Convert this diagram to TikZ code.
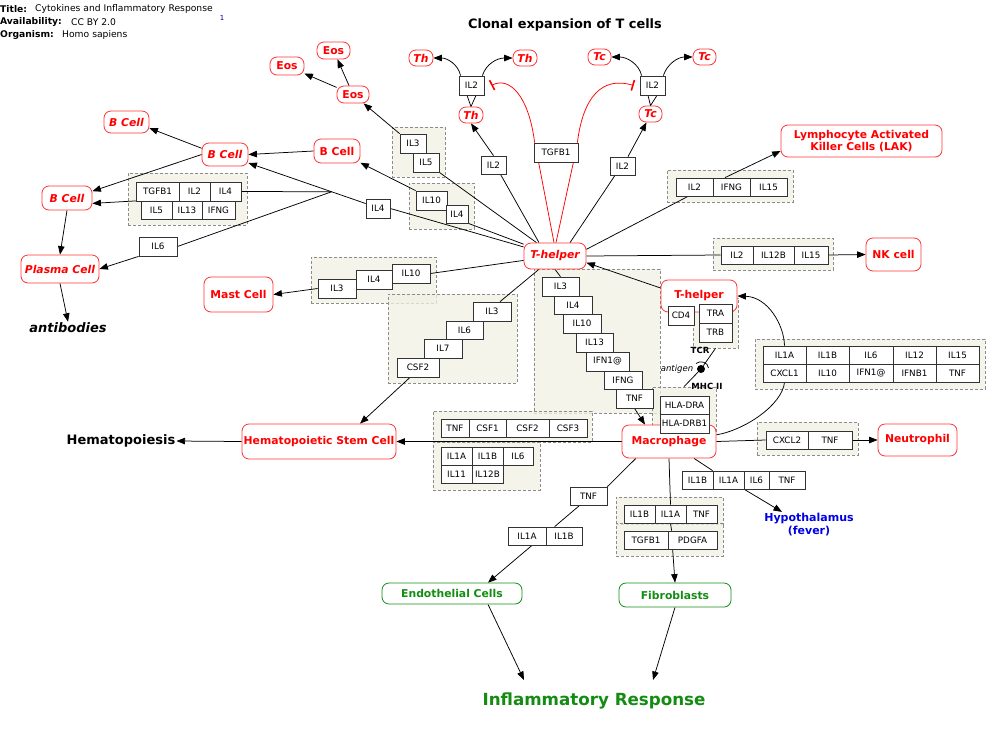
\documentclass[tikz,border=0pt]{standalone}
\usepackage{fontspec}
\setmainfont{DejaVu Sans}
\usetikzlibrary{arrows.meta,calc}
\pgfdeclarelayer{bg}
\pgfdeclarelayer{lnl}
\pgfsetlayers{bg,lnl,main}
\definecolor{grpfill}{RGB}{241,241,228}
\definecolor{cellred}{RGB}{255,0,0}
\definecolor{grn}{RGB}{20,140,20}
\definecolor{hypblue}{RGB}{0,0,230}
\tikzset{
  gene/.style={draw=black!80, line width=0.75pt, fill=white, inner sep=0pt,
    font=\fontsize{8.8}{10}\selectfont},
  grpst/.style={draw=black!45, dashed, dash pattern=on 3pt off 2pt, line width=0.7pt,
    fill=grpfill, fill opacity=0.75, inner sep=0pt},
  cellup/.style={draw=cellred!80, line width=0.8pt, fill=white, rounded corners=7pt,
    inner sep=0pt, text=cellred, align=center, font=\fontsize{10.8}{12.5}\selectfont\bfseries},
  cellit/.style={cellup, font=\fontsize{10.8}{12.5}\selectfont\bfseries\itshape},
  cellgrn/.style={cellup, draw=grn, text=grn},
  conn/.style={line width=0.75pt, draw=black},
  arr/.style={conn, -{Triangle[length=8.5pt,width=6.5pt]}},
  inh/.style={line width=0.75pt, draw=red, -{Bar[width=11pt,line width=1.6pt]}},
  hdr/.style={inner sep=0pt, anchor=west, font=\fontsize{9.2}{11}\selectfont},
  hdrb/.style={hdr, font=\fontsize{9.2}{11}\selectfont\bfseries},
}
\newcommand\gbx[6]{\node[gene,minimum width={(#4-#2)*1pt},minimum height={(#5-#3)*1pt}] (#1) at ({(#2+#4)/2},{(#3+#5)/2}) {#6};}
\newcommand\cbx[7]{\node[#7,minimum width={(#4-#2)*1pt},minimum height={(#5-#3)*1pt}] (#1) at ({(#2+#4)/2},{(#3+#5)/2}) {#6};}
\newcommand\grbx[5]{\begin{pgfonlayer}{bg}\node[grpst,minimum width={(#4-#2)*1pt},minimum height={(#5-#3)*1pt}] (#1) at ({(#2+#4)/2},{(#3+#5)/2}) {};\end{pgfonlayer}}
\begin{document}
\begin{tikzpicture}[x=1pt,y=-1pt]
\begin{pgfonlayer}{bg}
\fill[white] (0,0) rectangle (1000,737);
\end{pgfonlayer}
\useasboundingbox (0,0) rectangle (1000,737);

% header
\node[hdrb] (tl1) at (0,9) {Title:};
\node[hdr] (tl2) at (35,9) {Cytokines and Inflammatory Response};
\node[hdrb] (av1) at (0,22) {Availability:};
\node[hdr] (av2) at (71,22) {CC BY 2.0};
\node[hdrb] (or1) at (0,35) {Organism:};
\node[hdr] (or2) at (62,35) {Homo sapiens};
\node[inner sep=0pt, text=blue!70!black, font=\fontsize{7}{8}\selectfont] (ref1) at (222,18) {1};
\node[inner sep=0pt, font=\fontsize{12.9}{14}\selectfont\bfseries] (ttl) at (565,25) {Clonal expansion of T cells};

% groups
\grbx{g1}{128}{173}{247}{225}
\grbx{g2}{392}{127}{445}{177}
\grbx{g3}{409}{183}{474}{229}
\grbx{g4}{311}{257}{436}{303}
\grbx{g5}{388}{294}{517}{383}
\grbx{g6}{534}{269}{660}{413}
\grbx{g7}{693}{298}{738}{348}
\grbx{g8}{652}{387}{716}{433}
\grbx{g9}{667}{170}{793}{202}
\grbx{g10}{713}{238}{833}{270}
\grbx{g11}{755}{339}{985}{389}
\grbx{g12}{757}{422}{858}{455}
\grbx{g13}{433}{411}{592}{442}
\grbx{g14}{433}{442}{540}{490}
\grbx{g15}{616}{497}{723}{524}
\grbx{g16}{616}{523}{723}{556}

% cells
\cbx{eosA}{270}{57}{304}{75}{Eos}{cellup}
\cbx{eosB}{317}{42}{350}{59}{Eos}{cellup}
\cbx{eosC}{337}{86}{369}{103}{Eos}{cellup}
\cbx{thL}{409}{50}{433}{66}{Th}{cellit}
\cbx{thR}{513}{50}{537}{66}{Th}{cellit}
\cbx{thC}{459}{107}{483}{123}{Th}{cellit}
\cbx{tcL}{588}{49}{611}{65}{Tc}{cellit}
\cbx{tcR}{693}{49}{716}{65}{Tc}{cellit}
\cbx{tcC}{639}{106}{662}{122}{Tc}{cellit}
\cbx{bcA}{104}{111}{149}{133}{B Cell}{cellit}
\cbx{bcB}{202}{143}{248}{166}{B Cell}{cellit}
\cbx{bcC}{314}{139}{360}{163}{B Cell}{cellup}
\cbx{bcD}{42}{186}{92}{210}{B Cell}{cellit}
\cbx{plasma}{21}{255}{99}{283}{Plasma Cell}{cellit}
\cbx{mast}{204}{277}{273}{312}{Mast Cell}{cellup}
\cbx{th1}{524}{243}{586}{269}{T-helper}{cellit}
\cbx{th2}{661}{280}{737}{312}{T-helper}{cellup}
\cbx{lak}{781}{125}{942}{157}{Lymphocyte Activated\\Killer Cells (LAK)}{cellup}
\cbx{nk}{866}{238}{921}{271}{NK cell}{cellup}
\cbx{macro}{622}{425}{716}{458}{Macrophage}{cellup}
\cbx{neutro}{878}{424}{957}{456}{Neutrophil}{cellup}
\cbx{hsc}{242}{424}{396}{459}{Hematopoietic Stem Cell}{cellup}
\cbx{endo}{382}{583}{522}{604}{Endothelial Cells}{cellgrn}
\cbx{fibro}{619}{583}{731}{607}{Fibroblasts}{cellgrn}

% free labels
\node[inner sep=1pt, font=\fontsize{13}{15}\selectfont\bfseries\itshape] (anti) at (68,328) {antibodies};
\node[inner sep=1pt, font=\fontsize{13}{15}\selectfont\bfseries] (hemato) at (121,441) {Hematopoiesis};
\node[inner sep=0pt, text=grn, font=\fontsize{16.7}{19}\selectfont\bfseries] (infl) at (594,701) {Inflammatory Response};
\node[inner sep=1pt, text=hypblue, align=center, font=\fontsize{11}{13}\selectfont\bfseries] (hypo) at (809,524.5) {Hypothalamus\\(fever)};
\node[inner sep=0pt, font=\fontsize{8.5}{10}\selectfont\bfseries] (tcr) at (700,350) {TCR};
\node[inner sep=0pt, font=\fontsize{8.5}{10}\selectfont\itshape] (antig) at (677,369) {antigen};
\node[inner sep=0pt, font=\fontsize{8.5}{10}\selectfont\bfseries] (mhc) at (707,386) {MHC II};
\node[circle, fill=black, inner sep=0pt, minimum size=8pt] (dot) at (701,369) {};

% genes top
\gbx{il2L}{459}{76}{484}{95}{IL2}
\gbx{il2R}{640}{76}{665}{95}{IL2}
\gbx{tgf}{534}{143}{578}{162}{TGFB1}
\gbx{s_il2}{481}{156}{506}{174}{IL2}
\gbx{t_il2}{610}{157}{635}{175}{IL2}
% B cell area
\gbx{a_tgfb1}{136}{182}{179}{201}{TGFB1}
\gbx{a_il2}{179}{182}{210}{201}{IL2}
\gbx{a_il4}{210}{182}{241}{201}{IL4}
\gbx{a_il5}{141}{201}{172}{219}{IL5}
\gbx{a_il13}{172}{201}{202}{219}{IL13}
\gbx{a_ifng}{202}{201}{235}{219}{IFNG}
\gbx{a_il6}{139}{237}{177}{256}{IL6}
\gbx{b_il3}{400}{134}{426}{153}{IL3}
\gbx{b_il5}{413}{153}{439}{172}{IL5}
\gbx{c_il10}{416}{191}{447}{210}{IL10}
\gbx{c_il4}{446}{205}{468}{223}{IL4}
\gbx{d_il4}{366}{199}{390}{218}{IL4}
% mast
\gbx{m_il3}{318}{279}{356}{298}{IL3}
\gbx{m_il4}{356}{270}{392}{289}{IL4}
\gbx{m_il10}{392}{264}{430}{283}{IL10}
% csf2 stair
\gbx{n_il3}{473}{302}{511}{321}{IL3}
\gbx{n_il6}{446}{321}{483}{339}{IL6}
\gbx{n_il7}{424}{339}{462}{358}{IL7}
\gbx{n_csf2}{397}{358}{439}{377}{CSF2}
% column
\gbx{k_il3}{542}{277}{579}{296}{IL3}
\gbx{k_il4}{554}{296}{592}{314}{IL4}
\gbx{k_il10}{563}{314}{601}{333}{IL10}
\gbx{k_il13}{576}{333}{613}{352}{IL13}
\gbx{k_ifn}{586}{352}{629}{371}{IFN1@}
\gbx{k_ifng}{604}{371}{642}{389}{IFNG}
\gbx{k_tnf}{616}{389}{653}{408}{TNF}
% TCR / HLA
\gbx{t_cd4}{668}{306}{694}{325}{CD4}
\gbx{t_tra}{699}{304}{732}{323}{TRA}
\gbx{t_trb}{699}{323}{732}{342}{TRB}
\gbx{h_dra}{660}{396}{709}{414}{HLA-DRA}
\gbx{h_drb}{660}{414}{709}{433}{HLA-DRB1}
% LAK, NK
\gbx{l_il2}{676}{178}{713}{196}{IL2}
\gbx{l_ifng}{713}{178}{750}{196}{IFNG}
\gbx{l_il15}{750}{178}{787}{196}{IL15}
\gbx{nk_il2}{721}{246}{753}{264}{IL2}
\gbx{nk_il12b}{753}{246}{794}{264}{IL12B}
\gbx{nk_il15}{794}{246}{828}{264}{IL15}
% 12 gene group
\gbx{x_il1a}{763}{346}{806}{364}{IL1A}
\gbx{x_il1b}{806}{346}{849}{364}{IL1B}
\gbx{x_il6}{849}{346}{893}{364}{IL6}
\gbx{x_il12}{893}{346}{936}{364}{IL12}
\gbx{x_il15}{936}{346}{979}{364}{IL15}
\gbx{x_cxcl1}{763}{364}{806}{382}{CXCL1}
\gbx{x_il10}{806}{364}{849}{382}{IL10}
\gbx{x_ifn1}{849}{364}{893}{382}{IFN1@}
\gbx{x_ifnb1}{893}{364}{936}{382}{IFNB1}
\gbx{x_tnf}{936}{364}{979}{382}{TNF}
% neutrophil
\gbx{z_cxcl2}{766}{431}{808}{449}{CXCL2}
\gbx{z_tnf}{808}{431}{852}{449}{TNF}
% HSC groups
\gbx{q_tnf}{441}{419}{469}{437}{TNF}
\gbx{q_csf1}{469}{419}{506}{437}{CSF1}
\gbx{q_csf2}{506}{419}{549}{437}{CSF2}
\gbx{q_csf3}{549}{419}{587}{437}{CSF3}
\gbx{r_il1a}{441}{447}{472}{465}{IL1A}
\gbx{r_il1b}{472}{447}{503}{465}{IL1B}
\gbx{r_il6}{503}{447}{533}{465}{IL6}
\gbx{r_il11}{441}{465}{472}{483}{IL11}
\gbx{r_il12b}{472}{465}{503}{483}{IL12B}
% hypothalamus
\gbx{u_il1b}{682}{471}{713}{489}{IL1B}
\gbx{u_il1a}{713}{471}{744}{489}{IL1A}
\gbx{u_il6}{744}{471}{769}{489}{IL6}
\gbx{u_tnf}{769}{471}{805}{489}{TNF}
% endothelial
\gbx{e_tnf}{570}{487}{607}{505}{TNF}
\gbx{e_il1a}{508}{527}{546}{545}{IL1A}
\gbx{e_il1b}{546}{527}{582}{545}{IL1B}
% fibroblasts
\gbx{p_il1b}{624}{505}{655}{523}{IL1B}
\gbx{p_il1a}{655}{505}{686}{523}{IL1A}
\gbx{p_tnf}{686}{505}{717}{523}{TNF}
\gbx{p_tgfb1}{624}{531}{668}{549}{TGFB1}
\gbx{p_pdgfa}{668}{531}{717}{549}{PDGFA}

\coordinate (infA) at (524,680);
\coordinate (infB) at (653,680);
\coordinate (d4w) at ([yshift=5pt]d_il4.west);

\begin{pgfonlayer}{lnl}
% Eos
\draw[arr] (eosC) -- (eosA);
\draw[arr] (eosC) -- (eosB);
\draw[arr] (b_il3.north west) -- (eosC);
\draw[conn] (b_il5.south east) -- (th1);
\draw[arr] (c_il10.north west) -- (bcC);
\draw[conn] (c_il4.south east) -- (th1);
% B cells
\draw[conn] (th1) -- (d_il4.east);
\draw[arr] (d4w) -- (bcB.-20);
\coordinate (J) at ($(d4w)!0.29!(bcB.-20)$);
\draw[conn] (J) -- (a_il4.east);
\draw[arr] (a_il5.north west) -- (bcD.-12);
\draw[conn] (J) -- (a_il6.east);
\draw[arr] (a_il6.south west) -- (plasma.east);
\draw[arr] (bcC.west) -- (bcB.east);
\draw[arr] (bcB.165) -- (bcA.-15);
\draw[arr] (bcB.west) -- (bcD.15);
\draw[arr] (bcD.south) -- (plasma.north);
\draw[arr] (plasma.south) -- (anti.north);
% mast, hsc
\draw[conn] (th1) -- (m_il10.east);
\draw[arr] (m_il3.west) -- (mast.east);
\draw[conn] (th1) -- ([xshift=8pt]n_il3.north);
\draw[arr] ([xshift=-8pt]n_csf2.south) -- ([xshift=41pt]hsc.north);
\draw[conn] (th1.south) -- (k_il3.north);
\draw[arr] (k_tnf.south) -- ([xshift=-24pt]macro.north);
% T-helper 2, TCR
\draw[arr] ([yshift=8pt]th2.west) -- (th1.-12);
\draw[conn] (g7.south) -- (dot) -- (g8.north);
\draw[conn] ($(dot.center)+(-5,-5.5)$) .. controls ($(dot.center)+(-1,-9)$) and ($(dot.center)+(7,-7)$) .. ($(dot.center)+(7.5,-1)$);
\draw[conn] (macro.8) .. controls (745,430) and (782,405) .. (x_cxcl1.south);
\draw[arr] (x_il1a.north) .. controls (784,325) and (768,297) .. (th2.east);
% macrophage outputs
\draw[arr] (macro.west) -- (hsc.east);
\draw[arr] (hsc.west) -- (hemato.east);
\draw[conn] (macro.east) -- (z_cxcl2.west);
\draw[arr] (z_tnf.east) -- (neutro.west);
\draw[conn] (macro.-153) -- (e_tnf.north east);
\draw[conn] ([xshift=10pt]e_tnf.south west) -- ([xshift=9pt]e_il1b.north west);
\draw[arr] ([xshift=5pt]e_il1a.south) -- ([xshift=36pt]endo.north);
\draw[conn] (macro.south) -- (p_il1a.north);
\draw[conn] (p_il1a.south) -- ([xshift=4pt]p_pdgfa.north west);
\draw[arr] ([xshift=5pt]p_pdgfa.south west) -- (fibro.north);
\draw[conn] (macro.-34.5) -- (u_il1a.north west);
\draw[arr] (u_il1a.south east) -- ([xshift=-27pt]hypo.north);
\draw[arr] ([xshift=36pt]endo.south) -- (infA);
\draw[arr] (fibro.south) -- (infB);
% LAK, NK
\draw[conn] (th1.12) -- ([xshift=-6.5pt]l_il2.south);
\draw[arr] ([xshift=-6.5pt]l_ifng.north) -- ([yshift=-10pt]lak.west);
\draw[conn] (th1.east) -- (nk_il2.west);
\draw[arr] (nk_il15.east) -- (nk.west);
% clonal expansion
\draw[conn] ([xshift=-16pt]th1.north) -- ([xshift=7pt]s_il2.south);
\draw[arr] (s_il2.north) -- (thC.south);
\draw[conn] ([xshift=15pt]th1.north) -- ([xshift=-7.5pt]t_il2.south);
\draw[arr] ([xshift=5.5pt]t_il2.north) -- ([xshift=-4pt]tcC.south);
\draw[line width=0.75pt, red] ([xshift=-1pt]th1.north) -- ([xshift=5pt]tgf.south west);
\draw[inh] ([xshift=1pt]tgf.north west) .. controls (529,97) and (510,76) .. ([xshift=7pt]il2L.east);
\draw[line width=0.75pt, red] ([xshift=1pt]th1.north) -- ([xshift=-5pt]tgf.south east);
\draw[inh] ([xshift=-1pt]tgf.north east) .. controls (583,97) and (602,76) .. ([xshift=-6pt]il2R.west);
\draw[arr] ([xshift=2pt]il2L.north west) .. controls (458,64) and (447,58) .. (thL.east);
\draw[arr] ([xshift=-2pt]il2L.north east) .. controls (486,64) and (497,58) .. (thR.west);
\draw[arr] ([xshift=2pt]il2R.north west) .. controls (639,64) and (627,57) .. (tcL.east);
\draw[arr] ([xshift=-2pt]il2R.north east) .. controls (667,64) and (678,57) .. (tcR.west);
\draw[conn] ([xshift=-4.5pt]il2L.south) -- (thC.north) -- ([xshift=4.5pt]il2L.south);
\draw[conn] ([xshift=-4.5pt]il2R.south) -- (tcC.north) -- ([xshift=4.5pt]il2R.south);
\end{pgfonlayer}
\end{tikzpicture}
\end{document}
